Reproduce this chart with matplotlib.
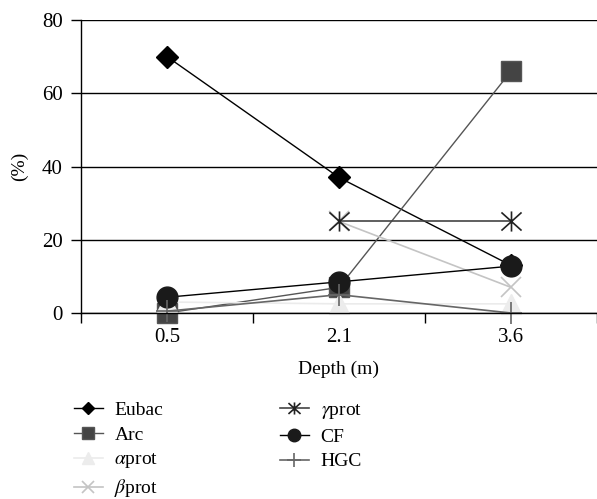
import numpy as np
import matplotlib
matplotlib.use("Agg")
import matplotlib.pyplot as plt
from matplotlib.path import Path

plt.rcParams['font.family'] = ['Liberation Serif', 'DejaVu Serif']
plt.rcParams['mathtext.fontset'] = 'stix'

# data
depths = ['0.5', '2.1', '3.6']
eubac = [70, 37, 13]
arc = [0, 7, 66]
aprot = [3, 2.5, 2.5]
bprot = [np.nan, 25, 7]
gprot = [np.nan, 25, 25]
cf = [4.3, 8.5, 12.8]
hgc = [0.5, 5, 0]

# asterisk-like marker: X plus vertical bar
star = Path([(-0.5, -0.45), (0.5, 0.45), (-0.5, 0.45), (0.5, -0.45), (0, -0.5), (0, 0.5)],
            [Path.MOVETO, Path.LINETO, Path.MOVETO, Path.LINETO, Path.MOVETO, Path.LINETO])

fig = plt.figure(figsize=(5.97, 4.99), dpi=100)
ax = fig.add_axes([81/597, 1-313/499, 1-81/597, 293/499])

x = np.arange(len(depths))

kw = dict(clip_on=False)
ax.plot(x, eubac, color='black', lw=1, marker='D', ms=11, label='Eubac', **kw)
ax.plot(x, arc, color='#555555', lw=1, marker='s', ms=14, mfc='#444444', mec='#555555', label='Arc', **kw)
ax.plot(x, aprot, color='#ebebeb', lw=1.2, marker='^', ms=14, mfc='#ececec', mec='#ececec', label=r'$\alpha$prot', **kw)
ax.plot(x, bprot, color='#c4c4c4', lw=1.2, marker='x', ms=14, mew=1.2, label=r'$\beta$prot', **kw)
ax.plot(x, gprot, color='#444444', lw=1.2, marker=star, ms=14.5, mew=1.2, mec='#222222', label=r'$\gamma$prot', **kw)
ax.plot(x, cf, color='black', lw=1, marker='o', ms=15, mfc='#1a1a1a', mec='#1a1a1a', label='CF', **kw)
ax.plot(x, hgc, color='#666666', lw=1.2, marker='+', ms=16, mew=1.2, label='HGC', **kw)

ax.set_xlim(-0.5, 2.5)
ax.set_ylim(0, 80)
ax.set_yticks([0, 20, 40, 60, 80])
ax.set_xticks(x)
ax.set_xticklabels(depths)
ax.set_xticks([-0.5, 0.5, 1.5, 2.5], minor=True)
ax.tick_params(axis='x', which='major', length=0, pad=11, labelsize=15)
ax.tick_params(axis='x', which='minor', length=7, width=1, direction='out')
ax.tick_params(axis='y', length=7, width=1, direction='out', pad=6, labelsize=15)

ax.yaxis.grid(True, color='black', lw=1)
ax.set_axisbelow(True)
for s in ['top', 'right']:
    ax.spines[s].set_visible(False)
ax.spines['left'].set_linewidth(1)
ax.spines['bottom'].set_linewidth(1)

ax.set_xlabel('Depth (m)', fontsize=14, labelpad=10)
ax.set_ylabel('(%)', fontsize=14, labelpad=10)

leg = fig.legend(loc='upper left', bbox_to_anchor=(56/597, 1-384/499), ncol=2,
                 frameon=False, fontsize=14, markerscale=0.6, handlelength=1.5,
                 handletextpad=0.6, columnspacing=6.0, labelspacing=0.36)

fig.savefig('out.png', dpi=100)
